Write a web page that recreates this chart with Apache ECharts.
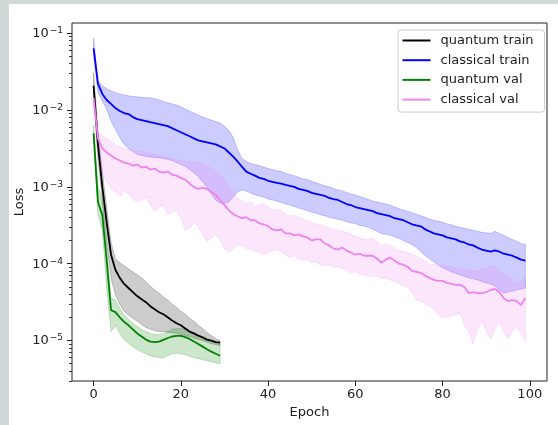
<!DOCTYPE html>
<html>
<head>
<meta charset="utf-8">
<script src="https://cdn.jsdelivr.net/npm/echarts@6/dist/echarts.min.js"></script>
<style>
  html, body { margin: 0; padding: 0; width: 558px; height: 425px; overflow: hidden; background: #d1d8d8; }
  #chart { position: absolute; left: 9px; top: 4px; width: 549px; height: 421px; background: #ffffff; }
</style>
</head>
<body>
<div id="chart"></div>
<script>
// Mean loss per epoch and the spread band (low / high) for each model.
const quantumTrain = [
  2.07e-2, 3.57e-3, 1.00e-3, 3.46e-4, 1.31e-4, 8.34e-5, 6.54e-5, 5.46e-5, 4.83e-5, 4.28e-5,
  3.79e-5, 3.46e-5, 3.16e-5, 2.80e-5, 2.56e-5, 2.34e-5, 2.20e-5, 2.01e-5, 1.83e-5, 1.68e-5,
  1.58e-5, 1.44e-5, 1.31e-5, 1.24e-5, 1.16e-5, 1.10e-5, 1.03e-5, 1.00e-5, 9.55e-6, 9.41e-6
];
const quantumTrainHigh = [
  3.07e-2, 5.63e-3, 1.58e-3, 5.46e-4, 1.89e-4, 1.16e-4, 1.03e-4, 9.41e-5, 8.60e-5, 7.85e-5,
  7.17e-5, 6.54e-5, 5.80e-5, 5.13e-5, 4.55e-5, 4.15e-5, 3.68e-5, 3.36e-5, 2.98e-5, 2.72e-5,
  2.41e-5, 2.20e-5, 1.95e-5, 1.78e-5, 1.58e-5, 1.44e-5, 1.27e-5, 1.16e-5, 1.06e-5, 1.00e-5
];
const quantumTrainLow = [
  1.53e-2, 2.48e-3, 6.35e-4, 1.89e-4, 6.54e-5, 3.91e-5, 2.98e-5, 2.41e-5, 2.14e-5, 1.95e-5,
  1.78e-5, 1.62e-5, 1.48e-5, 1.40e-5, 1.35e-5, 1.31e-5, 1.31e-5, 1.28e-5, 1.27e-5, 1.24e-5,
  1.20e-5, 1.16e-5, 1.13e-5, 1.08e-5, 1.03e-5, 1.00e-5, 9.55e-6, 9.13e-6, 8.86e-6, 8.60e-6
];

const classicalTrain = [
  6.35e-2, 2.20e-2, 1.62e-2, 1.35e-2, 1.20e-2, 1.06e-2, 9.70e-3, 9.13e-3, 8.86e-3, 8.09e-3,
  7.62e-3, 7.39e-3, 7.17e-3, 6.95e-3, 6.75e-3, 6.54e-3, 6.35e-3, 6.16e-3, 5.80e-3, 5.46e-3,
  5.13e-3, 4.83e-3, 4.55e-3, 4.28e-3, 4.03e-3, 3.91e-3, 3.79e-3, 3.68e-3, 3.57e-3, 3.36e-3,
  3.16e-3, 2.80e-3, 2.48e-3, 2.14e-3, 1.83e-3, 1.58e-3, 1.48e-3, 1.40e-3, 1.31e-3, 1.27e-3,
  1.20e-3, 1.16e-3, 1.13e-3, 1.10e-3, 1.06e-3, 1.03e-3, 1.00e-3, 9.41e-4, 9.13e-4, 8.86e-4,
  8.34e-4, 8.09e-4, 7.85e-4, 7.62e-4, 7.17e-4, 6.95e-4, 6.75e-4, 6.35e-4, 5.98e-4, 5.80e-4,
  5.46e-4, 5.30e-4, 5.13e-4, 4.98e-4, 4.83e-4, 4.55e-4, 4.41e-4, 4.28e-4, 4.15e-4, 3.91e-4,
  3.79e-4, 3.68e-4, 3.46e-4, 3.26e-4, 3.16e-4, 3.07e-4, 2.80e-4, 2.64e-4, 2.48e-4, 2.41e-4,
  2.34e-4, 2.20e-4, 2.14e-4, 2.07e-4, 1.95e-4, 1.89e-4, 1.78e-4, 1.73e-4, 1.62e-4, 1.53e-4,
  1.48e-4, 1.44e-4, 1.49e-4, 1.44e-4, 1.35e-4, 1.31e-4, 1.27e-4, 1.20e-4, 1.13e-4, 1.10e-4
];
const classicalTrainHigh = [
  8.60e-2, 2.41e-2, 2.07e-2, 1.89e-2, 1.78e-2, 1.68e-2, 1.62e-2, 1.58e-2, 1.53e-2, 1.50e-2,
  1.48e-2, 1.46e-2, 1.44e-2, 1.44e-2, 1.40e-2, 1.35e-2, 1.29e-2, 1.24e-2, 1.20e-2, 1.16e-2,
  1.10e-2, 1.03e-2, 9.70e-3, 9.13e-3, 8.60e-3, 8.09e-3, 7.73e-3, 7.39e-3, 7.06e-3, 6.75e-3,
  6.16e-3, 5.46e-3, 4.41e-3, 3.07e-3, 2.34e-3, 2.14e-3, 2.01e-3, 1.95e-3, 1.89e-3, 1.81e-3,
  1.73e-3, 1.68e-3, 1.62e-3, 1.58e-3, 1.50e-3, 1.44e-3, 1.40e-3, 1.33e-3, 1.27e-3, 1.24e-3,
  1.18e-3, 1.13e-3, 1.08e-3, 1.03e-3, 1.00e-3, 9.55e-4, 9.13e-4, 8.86e-4, 8.47e-4, 8.09e-4,
  7.85e-4, 7.50e-4, 7.17e-4, 6.85e-4, 6.54e-4, 6.35e-4, 6.16e-4, 5.98e-4, 5.80e-4, 5.46e-4,
  5.21e-4, 4.98e-4, 4.83e-4, 4.62e-4, 4.41e-4, 4.21e-4, 4.03e-4, 3.79e-4, 3.68e-4, 3.57e-4,
  3.46e-4, 3.31e-4, 3.21e-4, 3.07e-4, 2.98e-4, 2.89e-4, 2.80e-4, 2.72e-4, 2.64e-4, 2.56e-4,
  2.52e-4, 2.48e-4, 2.64e-4, 2.48e-4, 2.34e-4, 2.20e-4, 2.07e-4, 1.95e-4, 1.83e-4, 1.78e-4
];
const classicalTrainLow = [
  5.63e-2, 1.68e-2, 1.31e-2, 1.03e-2, 7.17e-3, 5.63e-3, 4.41e-3, 3.57e-3, 3.16e-3, 2.89e-3,
  2.64e-3, 2.56e-3, 2.48e-3, 2.45e-3, 2.41e-3, 2.38e-3, 2.34e-3, 2.27e-3, 2.20e-3, 2.07e-3,
  1.95e-3, 1.86e-3, 1.68e-3, 1.53e-3, 1.35e-3, 1.16e-3, 1.00e-3, 8.09e-4, 6.75e-4, 6.16e-4,
  5.98e-4, 6.35e-4, 7.39e-4, 8.60e-4, 9.13e-4, 8.86e-4, 8.34e-4, 7.85e-4, 7.62e-4, 7.39e-4,
  6.95e-4, 6.75e-4, 6.54e-4, 6.25e-4, 5.98e-4, 5.80e-4, 5.55e-4, 5.30e-4, 5.13e-4, 4.90e-4,
  4.69e-4, 4.55e-4, 4.34e-4, 4.21e-4, 4.03e-4, 3.91e-4, 3.79e-4, 3.68e-4, 3.52e-4, 3.41e-4,
  3.31e-4, 3.16e-4, 3.07e-4, 2.98e-4, 2.80e-4, 2.64e-4, 2.48e-4, 2.41e-4, 2.34e-4, 2.24e-4,
  2.14e-4, 2.01e-4, 1.89e-4, 1.78e-4, 1.62e-4, 1.44e-4, 1.27e-4, 1.16e-4, 1.06e-4, 9.70e-5,
  8.86e-5, 8.34e-5, 7.85e-5, 7.50e-5, 7.17e-5, 6.85e-5, 6.54e-5, 6.35e-5, 6.16e-5, 5.89e-5,
  5.63e-5, 5.46e-5, 5.13e-5, 4.55e-5, 4.15e-5, 4.28e-5, 4.41e-5, 4.55e-5, 4.69e-5, 4.83e-5
];

const quantumVal = [
  4.98e-3, 6.35e-4, 4.28e-4, 1.10e-4, 2.48e-5, 2.34e-5, 2.01e-5, 1.75e-5, 1.58e-5, 1.40e-5,
  1.24e-5, 1.13e-5, 1.03e-5, 9.70e-6, 9.55e-6, 9.70e-6, 1.02e-5, 1.08e-5, 1.13e-5, 1.15e-5,
  1.15e-5, 1.11e-5, 1.05e-5, 9.70e-6, 9.00e-6, 8.34e-6, 7.73e-6, 7.17e-6, 6.75e-6, 6.35e-6
];
const quantumValHigh = [
  6.35e-3, 1.00e-3, 6.75e-4, 1.62e-4, 3.57e-5, 3.36e-5, 2.64e-5, 2.14e-5, 1.89e-5, 1.68e-5,
  1.53e-5, 1.40e-5, 1.31e-5, 1.24e-5, 1.20e-5, 1.20e-5, 1.24e-5, 1.31e-5, 1.40e-5, 1.44e-5,
  1.44e-5, 1.40e-5, 1.31e-5, 1.24e-5, 1.16e-5, 1.10e-5, 1.03e-5, 9.70e-6, 9.27e-6, 8.86e-6
];
const quantumValLow = [
  3.91e-3, 4.41e-4, 2.72e-4, 4.83e-5, 1.31e-5, 1.58e-5, 1.24e-5, 1.03e-5, 9.13e-6, 8.34e-6,
  7.62e-6, 7.17e-6, 6.75e-6, 6.35e-6, 6.16e-6, 5.98e-6, 5.98e-6, 6.35e-6, 6.75e-6, 6.86e-6,
  6.75e-6, 6.54e-6, 6.25e-6, 5.98e-6, 5.80e-6, 5.63e-6, 5.46e-6, 5.30e-6, 5.13e-6, 4.98e-6
];

const classicalVal = [
  1.44e-2, 4.28e-3, 3.16e-3, 2.80e-3, 2.56e-3, 2.34e-3, 2.20e-3, 2.07e-3, 2.01e-3, 1.89e-3,
  1.95e-3, 1.78e-3, 1.83e-3, 1.68e-3, 1.73e-3, 1.58e-3, 1.53e-3, 1.58e-3, 1.44e-3, 1.40e-3,
  1.31e-3, 1.24e-3, 1.10e-3, 1.00e-3, 9.41e-4, 9.70e-4, 9.41e-4, 8.60e-4, 7.85e-4, 6.75e-4,
  5.80e-4, 4.98e-4, 4.41e-4, 4.15e-4, 3.91e-4, 4.03e-4, 3.68e-4, 3.68e-4, 3.36e-4, 3.26e-4,
  3.07e-4, 2.80e-4, 2.72e-4, 2.80e-4, 2.48e-4, 2.48e-4, 2.34e-4, 2.41e-4, 2.27e-4, 2.20e-4,
  2.01e-4, 2.07e-4, 2.07e-4, 1.83e-4, 1.73e-4, 1.58e-4, 1.53e-4, 1.62e-4, 1.48e-4, 1.40e-4,
  1.31e-4, 1.35e-4, 1.27e-4, 1.27e-4, 1.27e-4, 1.16e-4, 1.03e-4, 1.13e-4, 1.20e-4, 1.10e-4,
  1.00e-4, 9.70e-5, 9.13e-5, 8.09e-5, 7.85e-5, 7.62e-5, 6.95e-5, 6.54e-5, 6.16e-5, 5.98e-5,
  5.98e-5, 5.63e-5, 5.46e-5, 5.30e-5, 5.30e-5, 4.98e-5, 4.15e-5, 4.28e-5, 4.15e-5, 4.15e-5,
  4.28e-5, 4.55e-5, 4.69e-5, 4.28e-5, 3.57e-5, 3.26e-5, 3.36e-5, 3.26e-5, 2.89e-5, 3.57e-5
];
const classicalValHigh = [
  1.62e-2, 5.30e-3, 4.69e-3, 4.28e-3, 3.91e-3, 3.57e-3, 3.36e-3, 3.16e-3, 3.07e-3, 2.98e-3,
  2.94e-3, 2.89e-3, 2.80e-3, 2.72e-3, 2.64e-3, 2.56e-3, 2.48e-3, 2.41e-3, 2.34e-3, 2.27e-3,
  2.20e-3, 2.14e-3, 2.14e-3, 2.07e-3, 2.07e-3, 2.01e-3, 1.89e-3, 1.73e-3, 1.58e-3, 1.44e-3,
  1.24e-3, 1.03e-3, 8.34e-4, 6.95e-4, 6.54e-4, 5.98e-4, 6.35e-4, 5.46e-4, 5.80e-4, 6.16e-4,
  5.46e-4, 4.98e-4, 5.13e-4, 4.98e-4, 4.41e-4, 4.15e-4, 4.28e-4, 4.03e-4, 3.79e-4, 3.57e-4,
  3.46e-4, 3.26e-4, 3.26e-4, 3.07e-4, 2.89e-4, 2.80e-4, 2.72e-4, 2.64e-4, 2.56e-4, 2.41e-4,
  2.27e-4, 2.20e-4, 2.07e-4, 2.07e-4, 2.14e-4, 1.95e-4, 1.73e-4, 1.78e-4, 1.73e-4, 1.58e-4,
  1.48e-4, 1.44e-4, 1.40e-4, 1.31e-4, 1.27e-4, 1.16e-4, 1.10e-4, 9.70e-5, 1.00e-4, 9.41e-5,
  9.41e-5, 9.13e-5, 8.86e-5, 8.86e-5, 8.86e-5, 8.34e-5, 8.09e-5, 8.09e-5, 8.09e-5, 8.34e-5,
  8.60e-5, 9.13e-5, 9.41e-5, 8.09e-5, 7.17e-5, 6.95e-5, 6.35e-5, 5.63e-5, 5.98e-5, 6.54e-5
];
const classicalValLow = [
  1.31e-2, 2.14e-3, 1.48e-3, 1.16e-3, 9.70e-4, 8.60e-4, 7.62e-4, 8.86e-4, 8.09e-4, 6.95e-4,
  6.35e-4, 6.75e-4, 7.39e-4, 5.80e-4, 4.83e-4, 5.46e-4, 5.80e-4, 4.41e-4, 4.69e-4, 5.13e-4,
  3.91e-4, 2.72e-4, 2.89e-4, 3.36e-4, 3.07e-4, 2.41e-4, 1.95e-4, 2.14e-4, 2.41e-4, 2.01e-4,
  1.58e-4, 1.40e-4, 1.58e-4, 1.78e-4, 1.73e-4, 1.58e-4, 1.53e-4, 1.48e-4, 1.40e-4, 1.31e-4,
  1.40e-4, 1.48e-4, 1.53e-4, 1.44e-4, 1.31e-4, 1.20e-4, 1.27e-4, 1.16e-4, 1.10e-4, 1.13e-4,
  1.03e-4, 1.06e-4, 9.70e-5, 9.41e-5, 9.70e-5, 8.86e-5, 9.13e-5, 8.60e-5, 8.34e-5, 7.62e-5,
  7.85e-5, 7.39e-5, 7.17e-5, 6.95e-5, 6.75e-5, 6.95e-5, 6.35e-5, 6.54e-5, 6.16e-5, 5.80e-5,
  5.63e-5, 5.13e-5, 4.98e-5, 4.15e-5, 3.36e-5, 3.26e-5, 2.98e-5, 2.80e-5, 2.56e-5, 2.20e-5,
  1.95e-5, 2.07e-5, 2.07e-5, 2.14e-5, 2.27e-5, 1.58e-5, 1.31e-5, 9.13e-6, 1.40e-5, 1.83e-5,
  1.35e-5, 1.06e-5, 1.40e-5, 1.78e-5, 1.31e-5, 1.06e-5, 1.31e-5, 1.53e-5, 1.24e-5, 1.00e-5
];

// Axis ticks
const xTicks = [0, 20, 40, 60, 80, 100];
const yDecades = [-1, -2, -3, -4, -5];   // exponents of the labelled powers of ten

const FONT = 'DejaVu Sans';
const INK = '#222222';
const Y_MIN = -5.526, Y_MAX = -0.868;    // log10 limits of the value axis

// minor ticks at k * 10^n, in log10 units, inside the axis range
const yMinor = [];
for (let n = -6; n <= -1; n++) {
  for (let k = 2; k <= 9; k++) {
    const v = Math.log10(k) + n;
    if (v > Y_MIN && v < Y_MAX) yMinor.push(v);
  }
}

const toPoints = arr => arr.map((v, i) => [i, Math.log10(v)]);

function band(name, low, high, color) {
  return {
    type: 'custom',
    name: name,
    silent: true,
    clip: true,
    z: 1,
    data: [[0, -3]],
    renderItem: function (params, api) {
      const pts = [];
      for (let i = 0; i < high.length; i++) pts.push(api.coord([i, Math.log10(high[i])]));
      for (let i = low.length - 1; i >= 0; i--) pts.push(api.coord([i, Math.log10(low[i])]));
      return {
        type: 'polygon',
        shape: { points: pts },
        style: { fill: color, stroke: color, lineWidth: 1 }
      };
    }
  };
}

function line(name, arr, color) {
  return {
    type: 'line',
    name: name,
    data: toPoints(arr),
    symbol: 'none',
    showSymbol: false,
    z: 3,
    lineStyle: { color: color, width: 1.8 },
    itemStyle: { color: color }
  };
}

const chart = echarts.init(document.getElementById('chart'), null, { renderer: 'canvas' });

chart.setOption({
  animation: false,
  backgroundColor: '#ffffff',
  textStyle: { fontFamily: FONT, color: INK },
  grid: {
    left: 63, right: 11, top: 19, bottom: 44,
    containLabel: false,
    outerBoundsMode: 'none',
    show: true, borderColor: INK, borderWidth: 1, backgroundColor: 'transparent'
  },
  legend: {
    orient: 'vertical',
    left: 389, top: 26,
    padding: [3, 11, 5, 4.5],
    itemGap: 4.7,
    itemWidth: 28, itemHeight: 2,
    icon: 'rect',
    backgroundColor: 'rgba(255,255,255,0.8)',
    borderColor: '#cccccc', borderWidth: 1, borderRadius: 3,
    textStyle: { fontFamily: FONT, fontSize: 13, color: INK, lineHeight: 15, padding: [0, 0, 0, 5] },
    data: ['quantum train', 'classical train', 'quantum val', 'classical val']
  },
  xAxis: {
    type: 'value',
    min: -4.95, max: 103.95,
    name: 'Epoch', nameLocation: 'middle', nameGap: 22,
    nameTextStyle: { fontFamily: FONT, fontSize: 13, color: INK },
    axisLine: { show: false, onZero: false },
    splitLine: { show: false },
    axisTick: { show: true, length: 5, lineStyle: { color: INK, width: 1 }, customValues: xTicks },
    axisLabel: { fontFamily: FONT, fontSize: 13, color: INK, margin: 7, customValues: xTicks }
  },
  yAxis: [
    {
      type: 'value',
      min: Y_MIN, max: Y_MAX,
      position: 'left',
      name: 'Loss', nameLocation: 'middle', nameGap: 46, nameMoveOverlap: false,
      nameTextStyle: { fontFamily: FONT, fontSize: 13, color: INK },
      axisLine: { show: false, onZero: false },
      splitLine: { show: false },
      axisTick: { show: true, length: 5, lineStyle: { color: INK, width: 1 }, customValues: yDecades },
      axisLabel: {
        margin: 9,
        customValues: yDecades,
        formatter: v => '{b|10}{s|\u2212' + Math.round(-v) + '}',
        rich: {
          b: { fontFamily: FONT, fontSize: 13, color: INK, lineHeight: 14, verticalAlign: 'bottom' },
          s: { fontFamily: FONT, fontSize: 9, color: INK, lineHeight: 10, verticalAlign: 'top', padding: [0, 0, 0, 1] }
        }
      }
    },
    {
      type: 'value',
      min: Y_MIN, max: Y_MAX,
      position: 'left',
      axisLine: { show: false, onZero: false },
      splitLine: { show: false },
      axisLabel: { show: false },
      axisTick: { show: true, length: 3, lineStyle: { color: INK, width: 0.9 }, customValues: yMinor }
    }
  ],
  series: [
    band('quantum train spread', quantumTrainLow, quantumTrainHigh, 'rgba(0,0,0,0.2)'),
    band('classical train spread', classicalTrainLow, classicalTrainHigh, 'rgba(0,0,255,0.2)'),
    band('quantum val spread', quantumValLow, quantumValHigh, 'rgba(0,128,0,0.2)'),
    band('classical val spread', classicalValLow, classicalValHigh, 'rgba(238,130,238,0.2)'),
    line('quantum train', quantumTrain, '#000000'),
    line('classical train', classicalTrain, '#0000ff'),
    line('quantum val', quantumVal, '#008000'),
    line('classical val', classicalVal, '#ee82ee')
  ]
});
</script>
</body>
</html>
